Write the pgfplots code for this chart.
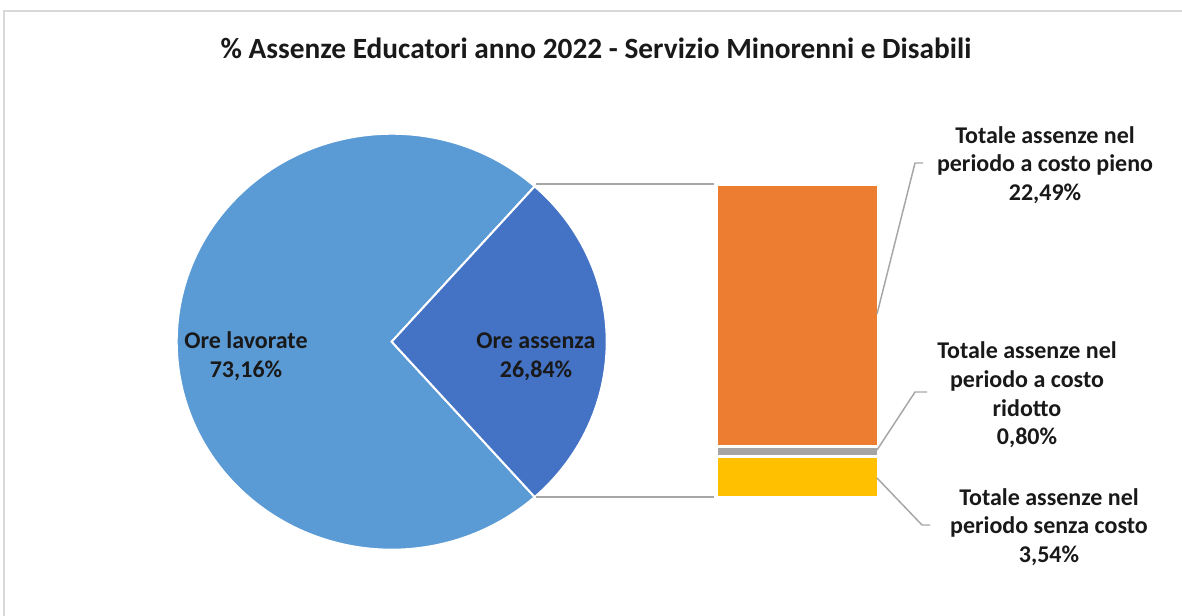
\documentclass[border=0pt]{standalone}
\usepackage{pgfplots}
\pgfplotsset{compat=1.18}
\usepackage{fontspec}
\setmainfont{Carlito}
\definecolor{cLav}{HTML}{5B9BD5}
\definecolor{cAss}{HTML}{4472C4}
\definecolor{cPieno}{HTML}{ED7D31}
\definecolor{cRid}{HTML}{A5A5A5}
\definecolor{cSenza}{HTML}{FFC000}
\definecolor{cLead}{HTML}{A6A6A6}
\definecolor{cFrame}{HTML}{D9D9D9}
\def\lavorate{73.16}
\def\assenza{26.84}
\def\rx{161.25pt}
\def\ry{156pt}
\begin{document}
\begin{tikzpicture}
\useasboundingbox (0,0) rectangle (886.5pt,-461.25pt);
\fill[white] (0,0) rectangle (886.5pt,-461.25pt);
\pgfmathsetmacro\half{3.6*\assenza/2}
\pgfmathsetmacro\other{360-\half}
% pie
\begin{axis}[at={(293.775pt,-256.275pt)}, anchor=center, scale only axis,
  width=322.5pt, height=312pt, xmin=-1, xmax=1, ymin=-1, ymax=1,
  hide axis, clip=false]
\fill[cLav, draw=white, line width=1.5pt] (axis cs:0,0) -- +({\rx*cos(\half)},{\ry*sin(\half)})
  arc[start angle=\half, end angle=\other, x radius=\rx, y radius=\ry] -- cycle;
\fill[cAss, draw=white, line width=1.5pt] (axis cs:0,0) -- +({\rx*cos(-\half)},{\ry*sin(-\half)})
  arc[start angle=-\half, end angle=\half, x radius=\rx, y radius=\ry] -- cycle;
\end{axis}
% bar
\begin{axis}[at={(537.375pt,-373.125pt)}, anchor=south west, scale only axis,
  width=121.5pt, height=234.75pt, xmin=-0.5, xmax=0.5, ymin=0, ymax=26.83,
  hide axis, clip=false, ybar stacked, bar width=121.5pt]
\addplot[fill=cSenza, draw=white, line width=2.25pt] coordinates {(0,3.54)};
\addplot[fill=cRid, draw=white, line width=2.25pt] coordinates {(0,0.80)};
\addplot[fill=cPieno, draw=white, line width=2.25pt] coordinates {(0,22.49)};
\end{axis}
\begin{scope}[x=0.75pt, y=-0.75pt]
% frame
\draw[cFrame, line width=1.5pt] (4,620) -- (4,11) -- (1190,11);
% connectors
\draw[cLead, line width=1.2pt] (536,184) -- (714,184);
\draw[cLead, line width=1.2pt] (536,497) -- (714,497);
% leaders
\draw[cLead, line width=1.1pt] (877,314) -- (915,163) -- (923,163);
\draw[cLead, line width=1.1pt] (877,450) -- (915,392) -- (927,392);
\draw[cLead, line width=1.1pt] (877,478) -- (922,525) -- (930,525);
% title
\node[font=\bfseries\fontsize{22}{26}\selectfont, text=black!90] at (596,48) {\% Assenze Educatori anno 2022 - Servizio Minorenni e Disabili};
% labels
\begin{scope}[every node/.style={align=center, text=black!90, font=\bfseries\fontsize{18}{21.5}\selectfont}]
\node at (246,356.5) {Ore lavorate\\73,16\%};
\node at (536,356.5) {Ore assenza\\26,84\%};
\node at (1045,165) {Totale assenze nel\\periodo a costo pieno\\22,49\%};
\node at (1027,395) {Totale assenze nel\\periodo a costo\\ridotto\\0,80\%};
\node at (1049,527) {Totale assenze nel\\periodo senza costo\\3,54\%};
\end{scope}
\end{scope}
\end{tikzpicture}
\end{document}
